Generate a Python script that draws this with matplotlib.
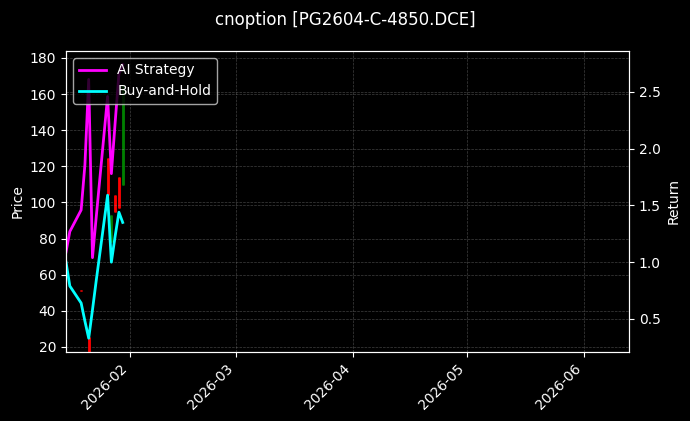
import numpy as np
import pandas as pd
import matplotlib.pyplot as plt
import matplotlib.dates as mdates

plt.style.use('dark_background')

dates = pd.to_datetime(['2026-01-15', '2026-01-16', '2026-01-19', '2026-01-20', '2026-01-21',
                        '2026-01-22', '2026-01-23', '2026-01-26', '2026-01-27', '2026-01-28',
                        '2026-01-29', '2026-01-30'])

# 价格 (open/close/high/low)，没有成交的日子为 NaN
open_p = [np.nan, np.nan, 51.5, np.nan, 25.5, np.nan, np.nan, 124.5, 78.0, 104.0, 114.0, 109.5]
close_p = [np.nan, np.nan, 50.8, np.nan, 12.0, np.nan, np.nan, 104.0, 93.0, 94.7, 96.9, 165.0]
high_p = [np.nan, np.nan, 51.5, np.nan, 25.5, np.nan, np.nan, 124.5, 93.0, 104.0, 114.0, 165.0]
low_p = [np.nan, np.nan, 50.8, np.nan, 12.0, np.nan, np.nan, 104.0, 78.0, 94.7, 96.9, 109.5]

ai_return = [1.09, 1.27, 1.46, 1.86, 2.61, 1.04, 1.40, 2.46, 1.78, 2.23, 2.66, 2.74]
bh_return = [1.00, 0.79, 0.64, 0.48, 0.33, 0.58, 0.84, 1.59, 1.00, 1.23, 1.44, 1.35]

fig = plt.figure(figsize=(6.9, 4.21), dpi=100)
ax1 = fig.add_axes([0.0957, 0.164, 0.8159, 0.715])

o = np.array(open_p)
c = np.array(close_p)
colors = np.where(c >= o, 'g', 'r')
ax1.vlines(dates, low_p, high_p, colors=colors, linewidth=1)
ax1.vlines(dates, open_p, close_p, colors=colors, linewidth=2)
ax1.set_ylabel('Price')
ax1.set_ylim(17.2, 183.9)
ax1.set_yticks(np.arange(20, 181, 20))
ax1.grid(True, linestyle='--', linewidth=0.5, color='gray', alpha=0.5)

ax2 = ax1.twinx()
ax2.plot(dates, ai_return, color='magenta', linewidth=2, label='AI Strategy')
ax2.plot(dates, bh_return, color='cyan', linewidth=2, label='Buy-and-Hold')
ax2.set_ylabel('Return')
ax2.set_ylim(0.209, 2.861)
ax2.grid(True, linestyle='--', linewidth=0.5, color='gray', alpha=0.5)
ax2.legend(loc='upper left')

ax1.set_xlim(pd.Timestamp('2026-01-15'), pd.Timestamp('2026-06-13'))
ax1.xaxis.set_major_locator(mdates.MonthLocator())
ax1.xaxis.set_major_formatter(mdates.DateFormatter('%Y-%m'))
plt.setp(ax1.get_xticklabels(), rotation=45, ha='right')

fig.suptitle('cnoption [PG2604-C-4850.DCE]', fontsize=12, y=0.975)
fig.savefig('out.png', dpi=100)
